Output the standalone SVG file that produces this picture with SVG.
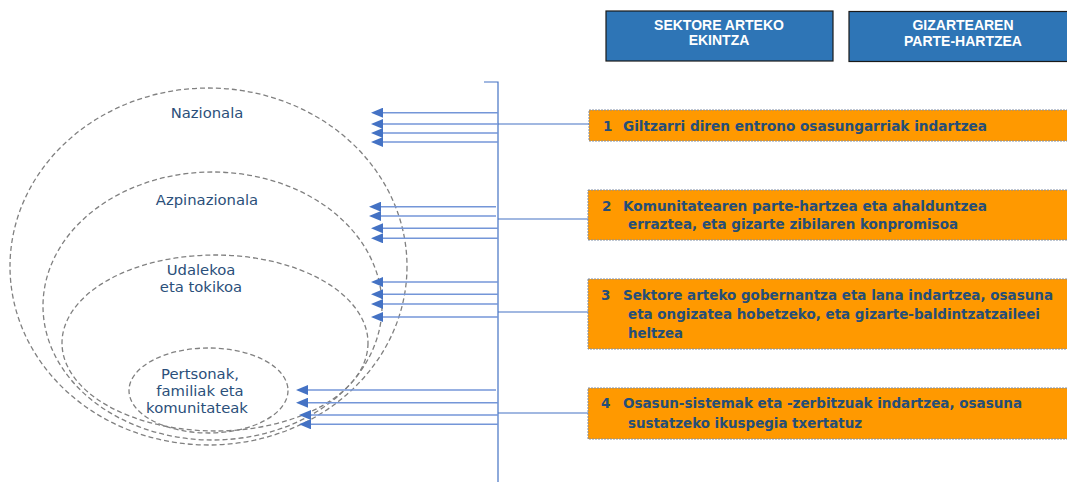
<svg xmlns="http://www.w3.org/2000/svg" width="1067" height="482" viewBox="0 0 1067 482">
<style>
.hdr{fill:#2E75B6;stroke:#1a1a1a;stroke-width:1.2}
.ht{font-family:"Liberation Sans",Arial,sans-serif;font-weight:bold;font-size:14px;fill:#fff;text-anchor:middle}
.ob{fill:#FF9900;stroke:#7F8FA8;stroke-width:1;stroke-dasharray:2 1}
.ot{font-family:"DejaVu Sans","Liberation Sans",sans-serif;font-weight:bold;font-size:13.5px;fill:#254E78}
.el{fill:none;stroke:#808080;stroke-width:1.3;stroke-dasharray:5 3}
.lt{font-family:"DejaVu Sans","Liberation Sans",sans-serif;font-size:14.8px;fill:#2B4F7A;text-anchor:middle}
.ar{stroke:#7496D8;stroke-width:1.4;fill:none}
.ln{stroke:#4472C4;stroke-width:1.2;fill:none}
</style>
<defs>
<marker id="ah" markerUnits="userSpaceOnUse" markerWidth="12" markerHeight="10" refX="1" refY="5" orient="auto" viewBox="0 0 12 10">
<path d="M12,0 L0,5 L12,10 Z" fill="#4472C4" transform="rotate(180 6 5)"/>
</marker>
</defs>
<rect width="1067" height="482" fill="#fff"/>

<g id="header-sektore">
<rect class="hdr" x="606" y="11" width="227" height="50"/>
<text class="ht" x="719" y="29.5">SEKTORE ARTEKO</text>
<text class="ht" x="719" y="44.5">EKINTZA</text>
</g>
<g id="header-gizartearen">
<rect class="hdr" x="849" y="11.5" width="225" height="50"/>
<text class="ht" x="963" y="29.5">GIZARTEAREN</text>
<text class="ht" x="963" y="45.5">PARTE-HARTZEA</text>
</g>

<g id="ellipse-nazionala">
<ellipse class="el" cx="208.5" cy="266.5" rx="198.5" ry="178.5"/>
<text class="lt" x="207" y="118">Nazionala</text>
</g>
<g id="ellipse-azpinazionala">
<ellipse class="el" cx="212.5" cy="306" rx="169.5" ry="134"/>
<text class="lt" x="207" y="205">Azpinazionala</text>
</g>
<g id="ellipse-udalekoa">
<ellipse class="el" cx="215" cy="343" rx="153" ry="88"/>
<text class="lt" x="201" y="275">Udalekoa</text>
<text class="lt" x="201" y="292">eta tokikoa</text>
</g>
<g id="ellipse-pertsonak">
<ellipse class="el" cx="208.5" cy="390.5" rx="79.5" ry="42.5"/>
<text class="lt" x="200" y="379">Pertsonak,</text>
<text class="lt" x="200" y="396">familiak eta</text>
<text class="lt" x="197" y="413">komunitateak</text>
</g>

<g id="box-1">
<rect class="ob" x="589" y="110" width="485" height="31"/>
<text class="ot" x="603" y="131">1</text>
<text class="ot" x="623" y="131" textLength="364" lengthAdjust="spacingAndGlyphs">Giltzarri diren entrono osasungarriak indartzea</text>
</g>
<g id="box-2">
<rect class="ob" x="588" y="190" width="486" height="50"/>
<text class="ot" x="602" y="211">2</text>
<text class="ot" x="623" y="211" textLength="364" lengthAdjust="spacingAndGlyphs">Komunitatearen parte-hartzea eta ahalduntzea</text>
<text class="ot" x="628" y="229" textLength="330" lengthAdjust="spacingAndGlyphs">erraztea, eta gizarte zibilaren konpromisoa</text>
</g>
<g id="box-3">
<rect class="ob" x="588" y="279" width="486" height="70"/>
<text class="ot" x="601" y="300">3</text>
<text class="ot" x="623" y="300" textLength="430" lengthAdjust="spacingAndGlyphs">Sektore arteko gobernantza eta lana indartzea, osasuna</text>
<text class="ot" x="628" y="319" textLength="412" lengthAdjust="spacingAndGlyphs">eta ongizatea hobetzeko, eta gizarte-baldintzatzaileei</text>
<text class="ot" x="628" y="338" textLength="55" lengthAdjust="spacingAndGlyphs">heltzea</text>
</g>
<g id="box-4">
<rect class="ob" x="588" y="388" width="486" height="51"/>
<text class="ot" x="601" y="408">4</text>
<text class="ot" x="623" y="408" textLength="399" lengthAdjust="spacingAndGlyphs">Osasun-sistemak eta -zerbitzuak indartzea, osasuna</text>
<text class="ot" x="628" y="428" textLength="234" lengthAdjust="spacingAndGlyphs">sustatzeko ikuspegia txertatuz</text>
</g>

<g id="connectors">
<path class="ln" d="M484,82 H498 V482"/>
<path class="ln" d="M498,124 H589"/>
<path class="ln" d="M498,219 H588"/>
<path class="ln" d="M498,312 H588"/>
<path class="ln" d="M498,413 H588"/>
<g marker-end="url(#ah)">
<path class="ar" d="M498,112.7 H382"/>
<path class="ar" d="M498,124 H382"/>
<path class="ar" d="M498,133 H382"/>
<path class="ar" d="M498,142 H382"/>
<path class="ar" d="M496,206.7 H380"/>
<path class="ar" d="M496,216 H380"/>
<path class="ar" d="M498,228.3 H382"/>
<path class="ar" d="M498,238.3 H382"/>
<path class="ar" d="M498,282 H382"/>
<path class="ar" d="M498,294.3 H382"/>
<path class="ar" d="M498,304 H382"/>
<path class="ar" d="M498,317 H382"/>
<path class="ar" d="M496,390 H307"/>
<path class="ar" d="M498,402.7 H307"/>
<path class="ar" d="M498,415 H310"/>
<path class="ar" d="M498,424.3 H310"/>
</g>
</g>
</svg>
